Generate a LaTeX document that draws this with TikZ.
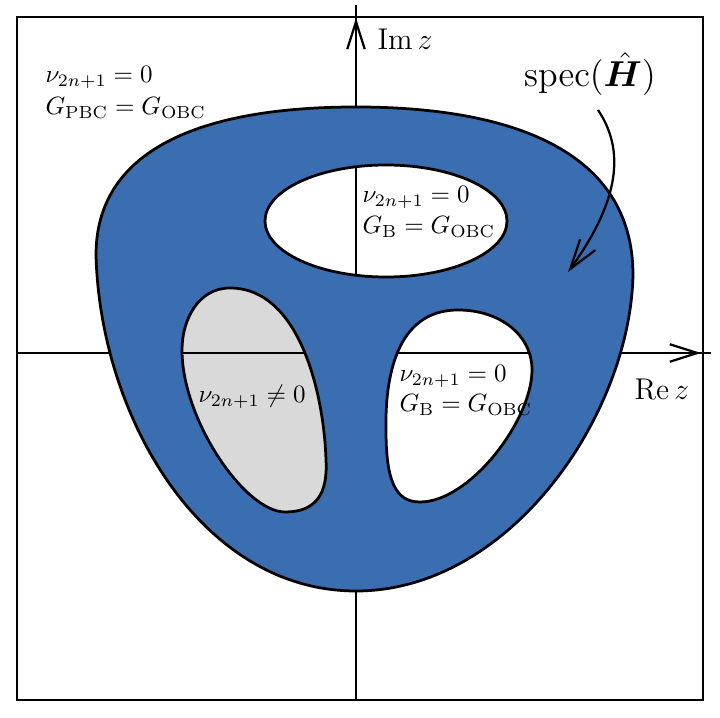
\documentclass[tikz,border=0pt]{standalone}
\usepackage{amsmath}
\usepackage{bm}
\usetikzlibrary{arrows.meta}
\definecolor{blobblue}{RGB}{58,110,176}
\definecolor{holegray}{RGB}{217,217,217}
\begin{document}
\begin{tikzpicture}[x=0.4pt,y=-0.4pt,
  frame/.style={line width=0.9pt},
  axis/.style={line width=0.9pt},
  axtip/.style={-{Straight Barb[length=11pt,width=7pt]}},
  outline/.style={line width=1.1pt, draw=black},
  pointer/.style={line width=0.9pt, -{Straight Barb[length=12pt,width=7.5pt]}},
  lbl/.style={anchor=base west, inner sep=0pt, font=\normalsize},
  axlbl/.style={anchor=base west, inner sep=0pt, font=\large}]
\useasboundingbox (0,0) rectangle (720,718);

% frame
\coordinate (fa) at (17,17);
\coordinate (fb) at (703,700);
\draw[frame] (fa) rectangle (fb);

% gray hole fill (under the axes)
\fill[holegray] (230,288) .. controls (198,288) and (182,320) .. (182,350)
  .. controls (182,420) and (245,512) .. (285,512)
  .. controls (315,512) and (328,495) .. (326,460)
  .. controls (324,395) and (300,288) .. cycle;

% axes
\coordinate (ybot) at (356,700);
\coordinate (ytop) at (356,5);
\coordinate (yarr) at (356,60);
\coordinate (ytip) at (356,18);
\coordinate (xleft) at (17,353);
\coordinate (xright) at (711,353);
\coordinate (xarr) at (650,353);
\coordinate (xtip) at (701,353);
\draw[axis] (ybot) -- (ytop);
\draw[axis,axtip] (yarr) -- (ytip);
\draw[axis] (xleft) -- (xright);
\draw[axis,axtip] (xarr) -- (xtip);

% spectrum with holes
\filldraw[fill=blobblue, outline, even odd rule]
  (356,107) .. controls (510,107) and (633,150) .. (633,275)
  .. controls (630,415) and (510,591) .. (356,591)
  .. controls (200,591) and (100,415) .. (96,255)
  .. controls (96,150) and (200,107) .. cycle
  (386,221) ellipse [x radius=121, y radius=56]
  (230,288) .. controls (198,288) and (182,320) .. (182,350)
  .. controls (182,420) and (245,512) .. (285,512)
  .. controls (315,512) and (328,495) .. (326,460)
  .. controls (324,395) and (300,288) .. cycle
  (458,310) .. controls (500,310) and (532,335) .. (532,370)
  .. controls (532,420) and (470,502) .. (420,502)
  .. controls (395,502) and (386,480) .. (386,430)
  .. controls (385,380) and (395,310) .. cycle;

% spec pointer
\coordinate (pstart) at (598,110);
\coordinate (ptip) at (568,272);
\draw[pointer] (pstart) .. controls (625,150) and (620,200) .. (ptip);

% labels
\node[lbl] (tl1) at (45,83) {$\nu_{2n+1} = 0$};
\node[lbl] (tl2) at (45,115) {$G_{\mathrm{PBC}} = G_{\mathrm{OBC}}$};
\node[lbl] (th1) at (362,203) {$\nu_{2n+1} = 0$};
\node[lbl] (th2) at (362,234) {$G_{\mathrm{B}} = G_{\mathrm{OBC}}$};
\node[lbl] (rh1) at (399,382) {$\nu_{2n+1} = 0$};
\node[lbl] (rh2) at (399,412) {$G_{\mathrm{B}} = G_{\mathrm{OBC}}$};
\node[lbl] (gh) at (198,403) {$\nu_{2n+1} \neq 0$};
\node[axlbl] (imz) at (377,50) {$\operatorname{Im} z$};
\node[axlbl] (rez) at (634,400) {$\operatorname{Re} z$};
\node[anchor=base, inner sep=0pt, font=\Large] (spec) at (590,87) {$\operatorname{spec}(\hat{\bm{H}})$};
\end{tikzpicture}
\end{document}
